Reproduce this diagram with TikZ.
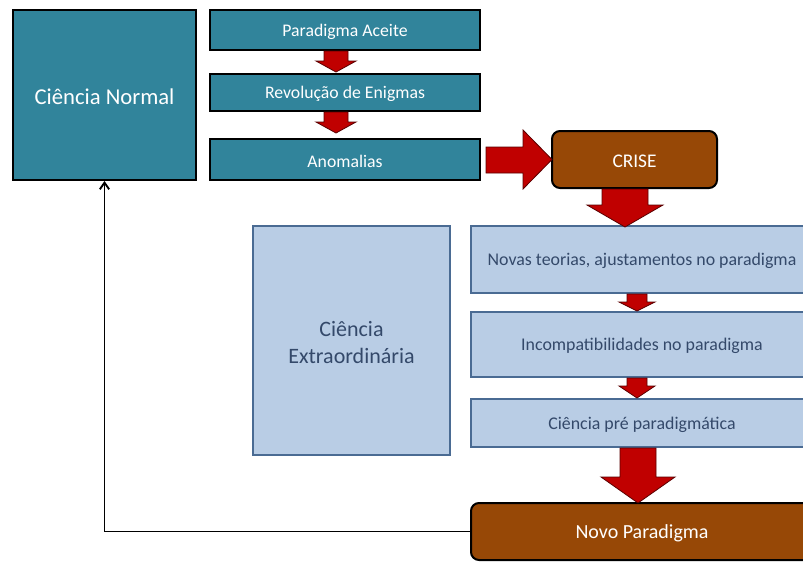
\documentclass[tikz,border=0pt]{standalone}
\usepackage{fontspec}
\setmainfont{Carlito}
\usetikzlibrary{fit,arrows.meta}
\definecolor{teal1}{HTML}{31849B}
\definecolor{brown1}{HTML}{974806}
\definecolor{lblue}{HTML}{B9CDE5}
\definecolor{lborder}{HTML}{4A6B93}
\definecolor{ltext}{HTML}{34496A}
\definecolor{redA}{HTML}{C00000}
\definecolor{redB}{HTML}{5A0000}
\tikzset{
  tealbox/.style={draw=black, line width=1.5pt, fill=teal1, inner sep=0pt},
  brownbox/.style={draw=black, line width=1.5pt, fill=brown1, inner sep=0pt, rounded corners=6pt},
  lightbox/.style={draw=lborder, line width=1.3pt, fill=lblue, inner sep=0pt},
  wtext/.style={text=white, align=center, yshift=-1.3pt},
  btext/.style={text=ltext, align=center, yshift=-1.3pt},
  blockarrow/.style={fill=redA, draw=redB, line width=0.6pt, line join=miter},
}
% down block arrow: center x, top y, shaft bottom y, tip y, half shaft, half head
\newcommand{\downblk}[6]{%
  \draw[blockarrow] (#1-#5,#2) -- (#1+#5,#2) -- (#1+#5,#3) -- (#1+#6,#3) -- (#1,#4) -- (#1-#6,#3) -- (#1-#5,#3) -- cycle;}
\begin{document}
\begin{tikzpicture}[x=0.75pt,y=-0.75pt]
\useasboundingbox (0,0) rectangle (803,561);
\fill[white] (0,0) rectangle (803,561);

% teal boxes
\node[tealbox, fit={(13,10) (196,180)}, label={[wtext, font=\fontsize{17pt}{20pt}\selectfont]center:Ciência Normal}] (cn) {};
\node[tealbox, fit={(210,10) (480,50)}, label={[wtext, font=\fontsize{13.3pt}{16pt}\selectfont]center:Paradigma Aceite}] (pa) {};
\node[tealbox, fit={(210,74) (480,111)}, label={[wtext, font=\fontsize{13.3pt}{16pt}\selectfont]center:Revolução de Enigmas}] (re) {};
\node[tealbox, fit={(210,139) (480,180)}, label={[wtext, font=\fontsize{13.3pt}{16pt}\selectfont]center:Anomalias}] (an) {};

% crise
\node[brownbox, fit={(552,131) (717,188)}, label={[wtext, font=\fontsize{14.5pt}{17pt}\selectfont]center:CRISE}] (cr) {};

% light boxes
\node[lightbox, fit={(253,226) (450,455)}, label={[btext, font=\fontsize{16.5pt}{20pt}\selectfont]center:Ciência\\Extraordinária}] (ce) {};
\node[lightbox, fit={(471,226) (813,293)}, label={[btext, font=\fontsize{13.4pt}{16pt}\selectfont]center:Novas teorias, ajustamentos no paradigma}] (nt) {};
\node[lightbox, fit={(471,312) (813,377)}, label={[btext, font=\fontsize{13.4pt}{16pt}\selectfont]center:Incompatibilidades no paradigma}] (ic) {};
\node[lightbox, fit={(471,399) (813,447)}, label={[btext, font=\fontsize{13.4pt}{16pt}\selectfont]center:Ciência pré paradigmática}] (cp) {};

% novo paradigma
\node[brownbox, fit={(471,503) (813,560)}, label={[wtext, font=\fontsize{15pt}{18pt}\selectfont]center:Novo Paradigma}] (np) {};

% small down arrows between teal boxes
\downblk{336}{51}{61}{72}{12}{20}
\downblk{336}{112}{122}{133}{12}{20}
% big right arrow anomalias -> crise
\draw[blockarrow] (486,147) -- (523,147) -- (523,130) -- (552,159.5) -- (523,189) -- (523,173) -- (486,173) -- cycle;
% crise -> novas teorias
\downblk{625}{189}{205}{227}{23}{38}
% small arrows between light boxes
\downblk{637}{294}{302}{311}{10}{18}
\downblk{637}{378}{386}{398}{10}{18}
% big arrow to novo paradigma
\downblk{638}{448}{477}{503}{18}{37}

% feedback connector
\draw[-{Straight Barb[length=5pt,width=7pt]}, line width=1.4pt] (np.west) -| (cn.south);
\end{tikzpicture}
\end{document}
